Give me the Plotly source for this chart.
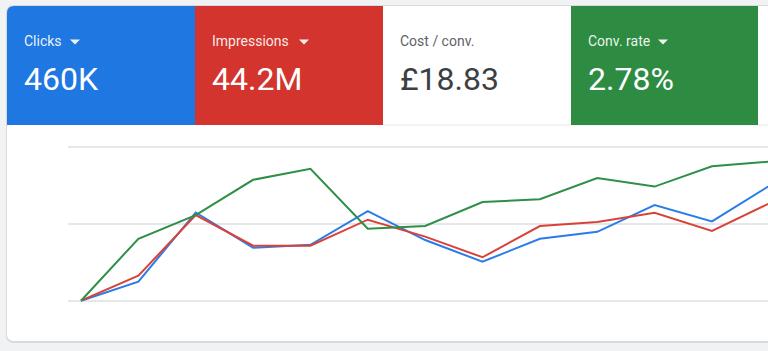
import plotly.graph_objects as go

# ---- data ----
periods = list(range(13))
clicks = [0, 12.3, 57.3, 34.4, 36.3, 58.2, 39.4, 25.3, 40.2, 44.7, 62.1, 51.5, 74.6]
impressions = [0, 16.2, 55.6, 35.7, 35.7, 52.6, 41.6, 28.2, 48.5, 51.1, 57.1, 45.3, 63.2]
conv_rate = [0, 40.2, 55.6, 78.5, 85.7, 46.8, 48.5, 64.1, 65.9, 79.7, 74.1, 87.3, 90.3]
tile_labels = ["Clicks", "Impressions", "Cost / conv.", "Conv. rate"]
tile_values = ["460K", "44.2M", "£18.83", "2.78%"]
grid_vals = [0, 50, 100]

W, H = 768, 351
BLUE_T, RED_T, GREEN_T = "#1f77e1", "#d3342d", "#2d8c42"
BLUE_L, RED_L, GREEN_L = "#2a7de8", "#d9423a", "#2f8f47"


def P(x, y):
    return f"{x / W:.5f},{1 - y / H:.5f}"


def rounded_left(x0, y0, x1, y1, r, top=True, bottom=True):
    s = f"M {P(x0 + (r if top else 0), y0)} L {P(x1, y0)} L {P(x1, y1)} "
    if bottom:
        s += f"L {P(x0 + r, y1)} Q {P(x0, y1)} {P(x0, y1 - r)} "
    else:
        s += f"L {P(x0, y1)} "
    if top:
        s += f"L {P(x0, y0 + r)} Q {P(x0, y0)} {P(x0 + r, y0)} Z"
    else:
        s += "Z"
    return s


fig = go.Figure()
for name, vals, col in [("Clicks", clicks, BLUE_L), ("Impressions", impressions, RED_L),
                        ("Conv. rate", conv_rate, GREEN_L)]:
    fig.add_trace(go.Scatter(x=periods, y=vals, mode="lines", name=name,
                             line=dict(color=col, width=2), hoverinfo="skip"))

shapes = []
# card shadow and card
shapes.append(dict(type="path", xref="paper", yref="paper", layer="below",
                   path=rounded_left(6, 5, 790, 343, 8), fillcolor="#d8dadc", line=dict(width=0)))
shapes.append(dict(type="path", xref="paper", yref="paper", layer="below",
                   path=rounded_left(7, 6, 790, 341, 7), fillcolor="#ffffff", line=dict(width=0)))
# separator under tiles
shapes.append(dict(type="line", xref="paper", yref="paper", layer="below",
                   x0=383 / W, x1=1, y0=1 - 125 / H, y1=1 - 125 / H,
                   line=dict(color="#e6e7e9", width=1)))
# tiles
shapes.append(dict(type="path", xref="paper", yref="paper", layer="below",
                   path=rounded_left(7, 6, 195, 125, 7, bottom=False), fillcolor=BLUE_T, line=dict(width=0)))
shapes.append(dict(type="rect", xref="paper", yref="paper", layer="below",
                   x0=195 / W, x1=383 / W, y0=1 - 125 / H, y1=1 - 6 / H, fillcolor=RED_T, line=dict(width=0)))
shapes.append(dict(type="rect", xref="paper", yref="paper", layer="below",
                   x0=571 / W, x1=758 / W, y0=1 - 125 / H, y1=1 - 6 / H, fillcolor=GREEN_T, line=dict(width=0)))
# dropdown triangles
for tx in (70, 299, 658):
    shapes.append(dict(type="path", xref="paper", yref="paper",
                       path=f"M {P(tx, 39.5)} L {P(tx + 10, 39.5)} L {P(tx + 5, 44.5)} Z",
                       fillcolor="rgba(255,255,255,0.92)", line=dict(width=0)))

annotations = []
tile_x = [24, 212, 400, 588]
label_cols = ["rgba(255,255,255,0.92)", "rgba(255,255,255,0.92)", "#5f6368", "rgba(255,255,255,0.92)"]
value_cols = ["#ffffff", "#ffffff", "#3c4043", "#ffffff"]
for tx, lab, val, lc, vc in zip(tile_x, tile_labels, tile_values, label_cols, value_cols):
    annotations.append(dict(text=lab, x=(tx - 2) / W, y=1 - 40.7 / H, xref="paper", yref="paper",
                            xanchor="left", yanchor="middle", showarrow=False,
                            font=dict(family="Roboto", size=14, color=lc)))
    annotations.append(dict(text=val, x=(tx - 2.5) / W, y=1 - 79.5 / H, xref="paper", yref="paper",
                            xanchor="left", yanchor="middle", showarrow=False,
                            font=dict(family="Roboto", size=32, color=vc)))

dx = 57.36
x_left = (68 - 81) / dx
x_right = (768 - 81) / dx
ppu = 1.54
y_top = (300.7 - 130) / ppu
y_bot = -(320 - 300.7) / ppu

fig.update_layout(
    width=W, height=H, margin=dict(l=0, r=0, t=0, b=0),
    paper_bgcolor="#f1f2f3", plot_bgcolor="rgba(0,0,0,0)",
    showlegend=False, shapes=shapes, annotations=annotations,
    xaxis=dict(domain=[68 / W, 1], range=[x_left, x_right], showgrid=False, zeroline=False,
               showticklabels=False, ticks="", fixedrange=True),
    yaxis=dict(domain=[1 - 320 / H, 1 - 130 / H], range=[y_bot, y_top], tickvals=grid_vals,
               showgrid=True, gridcolor="#e6e7e9", gridwidth=1.5, zeroline=False,
               showticklabels=False, ticks="", fixedrange=True),
)

fig.write_html("out.html", config={"displayModeBar": False})
